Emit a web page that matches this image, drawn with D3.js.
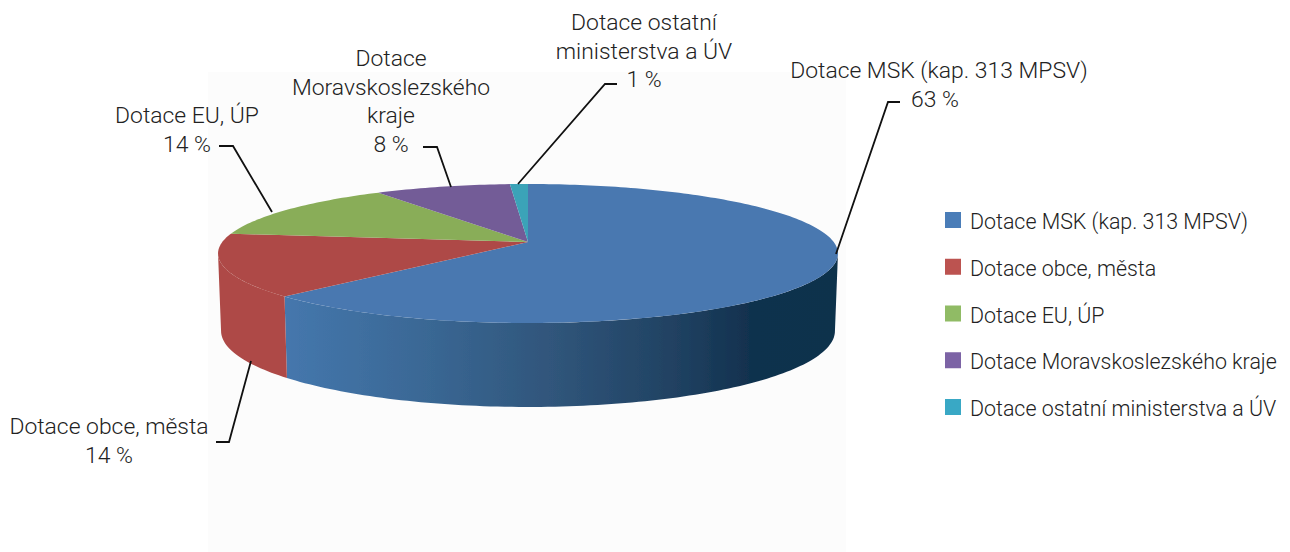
<!DOCTYPE html>
<html>
<head>
<meta charset="utf-8">
<script src="https://cdn.jsdelivr.net/npm/d3@7"></script>
<style>
    html, body { margin: 0; padding: 0; background: #fff; }
    svg { display: block; }
    text { font-family: "Roboto", sans-serif; font-weight: 300; fill: #222; }
    .label text { font-size: 22.9px; }
    .legend text { font-size: 21.4px; }
</style>
</head>
<body>
<div id="chart"></div>
<script>
// values, slice shares are a bit finer than the printed labels
const categories = ['Dotace MSK (kap. 313 MPSV)', 'Dotace obce, města', 'Dotace EU, ÚP', 'Dotace Moravskoslezského kraje', 'Dotace ostatní ministerstva a ÚV'];
const shares = [62.4, 14.6, 13.6, 8.3, 1.1];
const percentLabels = ['63 %', '14 %', '14 %', '8 %', '1 %'];
const labelLines = [
    ['Dotace MSK (kap. 313 MPSV)'],
    ['Dotace obce, města'],
    ['Dotace EU, ÚP'],
    ['Dotace', 'Moravskoslezského', 'kraje'],
    ['Dotace ostatní', 'ministerstva a ÚV']
];
const sliceColors = ['#4a78b0', '#ae4a47', '#89ad58', '#735b97', '#3aa3b8'];
const legendColors = ['#4a7db8', '#bc5350', '#90bb65', '#7c63a5', '#39a8c5'];

const width = 1290;
const height = 552;

const svg = d3.select('#chart').append('svg')
    .attr('width', width)
    .attr('height', height);

// pale panel behind the pie
svg.append('rect')
    .attr('x', 208).attr('y', 72)
    .attr('width', 638).attr('height', 480)
    .attr('fill', '#fcfcfc');

const defs = svg.append('defs');
const wallGrad = defs.append('linearGradient')
    .attr('id', 'wallBlue')
    .attr('gradientUnits', 'userSpaceOnUse')
    .attr('x1', 284).attr('x2', 838).attr('y1', 0).attr('y2', 0);
wallGrad.selectAll('stop')
    .data([[0, '#4577ad'], [0.25, '#3a6895'], [0.5, '#2f5479'], [0.72, '#1f4060'], [0.85, '#10304d'], [1, '#0f304c']])
    .join('stop')
    .attr('offset', d => d[0])
    .attr('stop-color', d => d[1]);

defs.append('filter').attr('id', 'soft')
    .append('feGaussianBlur').attr('stdDeviation', 0.6);

// perspective disc: the pie centre sits above the middle of the ellipse
const persp = 0.1655;
const topDisc = { cx: 528, cy: 242, b: 305.7, a: 67.6 };
const baseDisc = { cx: 528, cy: 318.4, b: 302.7, a: 73.9 };

function project(disc, angle) {
    const u = Math.sin(angle);
    const v = -Math.cos(angle);
    const w = 1 - persp * v;
    return [disc.cx + disc.b * u / w, disc.cy + disc.a * v / w];
}

function rim(disc, a0, a1) {
    const n = Math.max(2, Math.ceil(Math.abs(a1 - a0) / 0.02));
    return d3.range(n + 1).map(i => project(disc, a0 + (a1 - a0) * i / n));
}

const line = d3.line();
const arcs = d3.pie().sort(null).value(d => d)(shares);

// angles of the silhouette, where the side wall starts and stops
const rightEdge = Math.PI - Math.asin(Math.sqrt(1 - persp * persp));
const leftEdge = 2 * Math.PI - rightEdge;

const pie3d = svg.append('g').attr('filter', 'url(#soft)');

const walls = arcs
    .map((d, i) => ({
        i,
        a0: Math.max(d.startAngle, rightEdge),
        a1: Math.min(d.endAngle, leftEdge)
    }))
    .filter(d => d.a1 > d.a0);

pie3d.selectAll('path.wall')
    .data(walls)
    .join('path')
    .attr('class', 'wall')
    .attr('d', d => line(rim(topDisc, d.a0, d.a1).concat(rim(baseDisc, d.a1, d.a0))) + 'Z')
    .attr('fill', d => d.i === 0 ? 'url(#wallBlue)' : sliceColors[d.i]);

pie3d.selectAll('path.slice')
    .data(arcs)
    .join('path')
    .attr('class', 'slice')
    .attr('d', d => line([[topDisc.cx, topDisc.cy]].concat(rim(topDisc, d.startAngle, d.endAngle))) + 'Z')
    .attr('fill', (d, i) => sliceColors[i]);

// label placement: centre x, first baseline, leader polyline
const labelLayout = [
    { x: 939, y: 78, leader: [[836, 254], [888, 102], [900, 102]], pctShift: -4 },
    { x: 109, y: 434, leader: [[251, 361], [229, 442], [216, 442]], pctShift: 0 },
    { x: 187, y: 123, leader: [[272, 212], [233, 146], [219, 146]], pctShift: 0 },
    { x: 391, y: 66, leader: [[451, 187], [437, 147], [423, 147]], pctShift: 0 },
    { x: 644, y: 30, leader: [[518, 184], [605, 84], [617, 84]], pctShift: 0 }
];

const lineStep = 28.5;

const labels = svg.selectAll('g.label')
    .data(categories)
    .join('g')
    .attr('class', 'label');

labels.append('path')
    .attr('d', (d, i) => line(labelLayout[i].leader))
    .attr('fill', 'none')
    .attr('stroke', '#111')
    .attr('stroke-width', 1.8);

labels.selectAll('text')
    .data((d, i) => {
        const rows = labelLines[i].concat(percentLabels[i]);
        return rows.map((t, j) => ({
            t,
            x: labelLayout[i].x + (j === rows.length - 1 ? labelLayout[i].pctShift : 0),
            y: labelLayout[i].y + j * lineStep
        }));
    })
    .join('text')
    .attr('x', d => d.x)
    .attr('y', d => d.y)
    .attr('text-anchor', 'middle')
    .text(d => d.t);

// legend
const legendY = d3.scalePoint()
    .domain(categories)
    .range([220, 407]);

const legend = svg.selectAll('g.legend')
    .data(categories)
    .join('g')
    .attr('class', 'legend')
    .attr('transform', d => `translate(945,${legendY(d)})`);

legend.append('rect')
    .attr('x', 0).attr('y', -8)
    .attr('width', 16).attr('height', 16)
    .attr('fill', (d, i) => legendColors[i]);

legend.append('text')
    .attr('x', 25)
    .attr('y', 9)
    .text(d => d);
</script>
</body>
</html>
